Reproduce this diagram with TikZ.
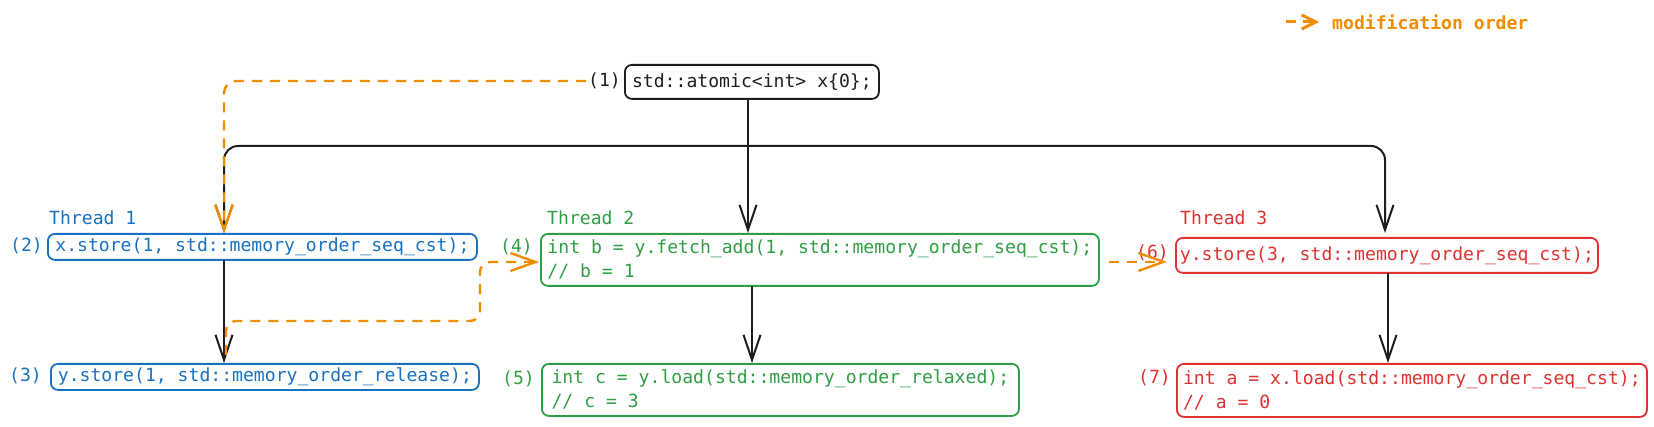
\documentclass[tikz,border=0pt]{standalone}
\usepackage{fontspec}
\setmainfont{DejaVu Sans Mono}
\usetikzlibrary{arrows.meta,calc}
\definecolor{cblue}{HTML}{1971C2}
\definecolor{cgreen}{HTML}{2F9E44}
\definecolor{cred}{HTML}{E03131}
\definecolor{corange}{HTML}{F08C00}
\definecolor{cblack}{HTML}{1E1E1E}
\tikzset{
  box/.style={draw, rounded corners=7pt, line width=1.8pt, inner sep=0pt, align=left, anchor=north west},
  lab/.style={inner sep=0pt, anchor=east},
  thr/.style={inner sep=0pt, anchor=west},
  arr/.style={draw=cblack, line width=2pt, line cap=round, line join=round, -{Straight Barb[length=25pt,width=17pt]}},
  mo/.style={draw=corange, line width=2.4pt, dash pattern=on 10pt off 8pt, -{Straight Barb[length=25pt,width=18pt]}},
}
\begin{document}
\begin{tikzpicture}[x=1pt,y=-1pt,font=\fontsize{18.1}{24}\selectfont]
\useasboundingbox (0,0) rectangle (1654,427);

% boxes
\node[box, draw=cblack, text=cblack, minimum width=254pt, minimum height=34pt] (b1) at (624,64) {std::atomic<int> x\{0\};};
\node[box, draw=cblue, text=cblue, minimum width=429pt, minimum height=26pt] (b2) at (47,233) {x.store(1, std::memory\_order\_seq\_cst);};
\node[box, draw=cblue, text=cblue, minimum width=428pt, minimum height=26pt] (b3) at (50,363) {y.store(1, std::memory\_order\_release);};
\node[box, draw=cgreen, text=cgreen, minimum width=558pt, minimum height=52pt] (b4) at (540,233) {int b = y.fetch\_add(1, std::memory\_order\_seq\_cst);\\// b = 1};
\node[box, draw=cgreen, text=cgreen, minimum width=477pt, minimum height=52pt] (b5) at (541,363) {int c = y.load(std::memory\_order\_relaxed);\\// c = 3};
\node[box, draw=cred, text=cred, minimum width=422pt, minimum height=35pt] (b6) at (1175,237) {y.store(3, std::memory\_order\_seq\_cst);};
\node[box, draw=cred, text=cred, minimum width=470pt, minimum height=53pt] (b7) at (1176,363) {int a = x.load(std::memory\_order\_seq\_cst);\\// a = 0};

% thread titles
\node[thr, text=cblue] (t1) at (49,218) {Thread 1};
\node[thr, text=cgreen] (t2) at (547,218) {Thread 2};
\node[thr, text=cred] (t3) at (1180,218) {Thread 3};

% number labels
\node[lab, text=cblack] (l1) at (621,81) {(1)};
\node[lab, text=cblue] (l2) at (43,246) {(2)};
\node[lab, text=cblue] (l3) at (42,376) {(3)};
\node[lab, text=cgreen] (l4) at (533,247) {(4)};
\node[lab, text=cgreen] (l5) at (535,379) {(5)};
\node[lab, text=cred] (l6) at (1169,253) {(6)};
\node[lab, text=cred] (l7) at (1171,378) {(7)};

% helper coordinates
\coordinate (c1) at (224,0);
\coordinate (c2) at (748,0);
\coordinate (c2b) at (752,0);
\coordinate (c3) at (1385,0);
\coordinate (c3b) at (1388,0);
\coordinate (j) at (748,146);
\coordinate (s3) at (226,355);

% black connectors
\draw[arr] (b1.south -| c2) -- (b4.north -| c2);
\draw[arr, rounded corners=14pt] (j) -| (b2.north -| c1);
\draw[arr, rounded corners=14pt, shorten >=4pt] (j) -| (b6.north -| c3);
\draw[arr] (b2.south -| c1) -- (b3.north -| c1);
\draw[arr] (b4.south -| c2b) -- (b5.north -| c2b);
\draw[arr] (b6.south -| c3b) -- (b7.north -| c3b);

% modification order
\draw[mo, rounded corners=12pt] ($(l1.west)+(-2,0)$) -| (b2.north -| c1);
\draw[mo, rounded corners=10pt] (s3) |- (480,321) |- ($(b4.north west)+(-1,29)$);
\draw[mo] ($(b4.east)+(9,2)$) -- ($(b6.west)+(-8,6.5)$);

% legend
\coordinate (lg1) at (1286,22);
\coordinate (lg2) at (1319,22);
\draw[corange, line width=3pt, dash pattern=on 10pt off 7pt, -{Straight Barb[length=14pt,width=14pt]}] (lg1) -- (lg2);
\node[anchor=west, inner sep=0pt, text=corange, font=\fontsize{18.1}{24}\selectfont\bfseries] (lg) at (1332,22) {modification order};
\end{tikzpicture}
\end{document}
